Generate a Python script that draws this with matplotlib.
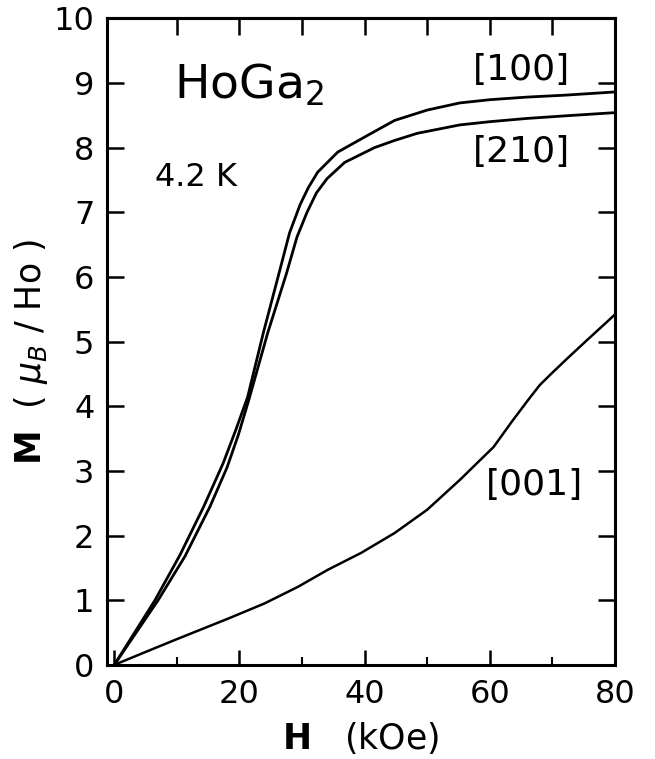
import matplotlib.pyplot as plt

# field (kOe) and magnetization (mu_B/Ho)
h_100 = [0, 6.5, 10.5, 14.3, 17.4, 19.4, 21.3, 23.8, 26.3, 28.0, 29.7,
         31.0, 32.5, 35.7, 40.5, 44.8, 50.0, 55.2, 60.0, 65.9, 72.0, 80.0]
m_100 = [0, 1.00, 1.70, 2.45, 3.12, 3.63, 4.14, 5.13, 6.05, 6.68, 7.12,
         7.38, 7.62, 7.93, 8.19, 8.42, 8.58, 8.69, 8.74, 8.78, 8.81, 8.86]

h_210 = [0, 7.0, 11.3, 15.3, 18.0, 19.8, 21.5, 24.5, 27.5, 29.2, 30.8,
         32.3, 34.0, 36.8, 41.6, 44.8, 48.4, 55.2, 60.0, 65.9, 72.0, 80.0]
m_210 = [0, 1.00, 1.68, 2.45, 3.05, 3.55, 4.10, 5.13, 6.05, 6.62, 7.00,
         7.30, 7.52, 7.77, 8.00, 8.11, 8.22, 8.35, 8.40, 8.45, 8.49, 8.54]

h_001 = [0, 5.0, 9.8, 18.3, 24.0, 29.4, 34.1, 39.4, 44.8, 50.0, 55.2,
         60.6, 63.5, 66.3, 68.0, 70.0, 72.5, 75.5, 79.0, 80.0]
m_001 = [0, 0.20, 0.39, 0.72, 0.95, 1.21, 1.47, 1.73, 2.04, 2.40, 2.86,
         3.37, 3.76, 4.12, 4.33, 4.52, 4.75, 5.02, 5.33, 5.42]

x_major = [0, 20, 40, 60, 80]
x_minor = [10, 30, 50, 70]
x_top = [10, 20, 30, 40, 50, 60, 70]
y_major = list(range(0, 11))

plt.rcParams["font.family"] = ["DejaVu Sans"]

fig = plt.figure(figsize=(6.55, 7.59), dpi=100)
ax = fig.add_axes([0.163, 0.124, 0.776, 0.852])

ax.plot(h_100, m_100, color="black", linewidth=2.0)
ax.plot(h_210, m_210, color="black", linewidth=2.0)
ax.plot(h_001, m_001, color="black", linewidth=1.8)

ax.set_xlim(-1.2, 80)
ax.set_ylim(0, 10)

ax.set_xticks(x_major)
ax.set_xticks(x_minor, minor=True)
ax.set_yticks(y_major)

ax.tick_params(axis="x", which="major", direction="in", length=11, width=1.8,
               labelsize=23, pad=10, top=False)
ax.tick_params(axis="x", which="minor", direction="in", length=6, width=1.5,
               top=False)
ax.tick_params(axis="y", which="major", direction="in", length=12, width=1.8,
               labelsize=23, pad=9, right=True)

top = ax.secondary_xaxis("top")
top.set_xticks(x_top)
top.set_xticklabels([])
top.tick_params(direction="in", length=12, width=1.8)
top.spines["top"].set_linewidth(2.2)

for s in ax.spines.values():
    s.set_linewidth(2.2)

ax.set_xlabel(r"$\mathbf{H}$   (kOe)", fontsize=25)
ax.xaxis.set_label_coords(0.5, -0.085)
ax.set_ylabel(r"$\mathbf{M}$  ( $\mu_B$ / Ho )", fontsize=25)
ax.yaxis.set_label_coords(-0.112, 0.484)

ax.text(9.5, 8.96, "HoGa$_2$", fontsize=34, va="center", ha="left")
ax.text(6.5, 7.53, "4.2 K", fontsize=23, va="center", ha="left")
ax.text(65.1, 9.2, "[100]", fontsize=26, va="center", ha="center")
ax.text(65.1, 7.93, "[210]", fontsize=26, va="center", ha="center")
ax.text(67.1, 2.78, "[001]", fontsize=26, va="center", ha="center")

fig.savefig("out.png", dpi=100)
